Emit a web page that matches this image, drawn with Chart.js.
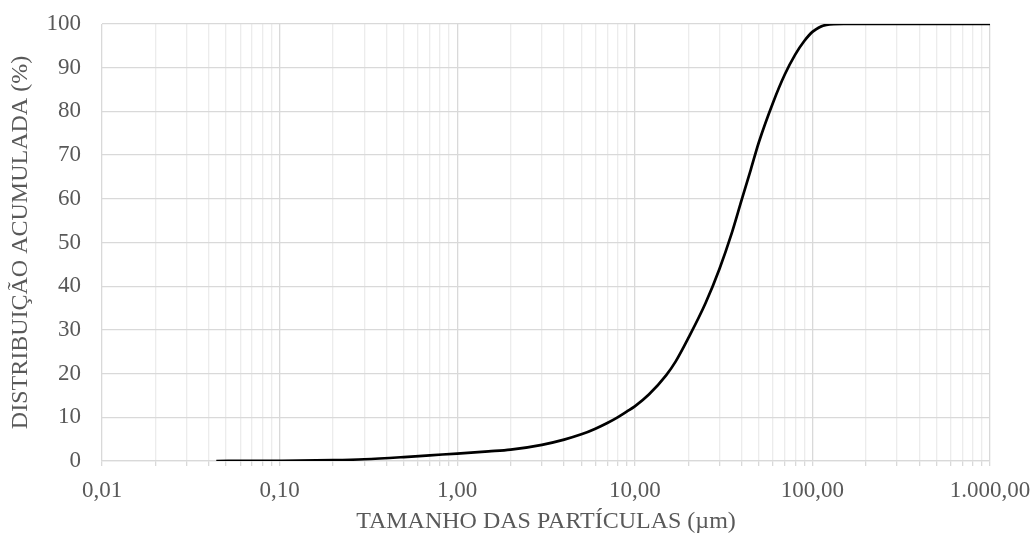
<!DOCTYPE html>
<html>
<head>
<meta charset="utf-8">
<script src="https://cdn.jsdelivr.net/npm/chart.js@4/dist/chart.umd.min.js"></script>
<style>
    html, body { margin: 0; padding: 0; background: #fff; }
    #wrap { width: 1035px; height: 538px; }
</style>
</head>
<body>
<div id="wrap"><canvas id="psd-chart" width="1035" height="538"></canvas></div>
<script>
// Tamanho das partículas (µm) e distribuição acumulada (%)
const tamanhos = [0.044, 0.07, 0.1, 0.2, 0.3, 0.5, 0.7, 1, 1.5, 2, 3, 4, 5, 6, 7, 8, 9, 10, 12, 15, 17, 20, 25, 30, 35, 40, 45, 50, 60, 70, 80, 90, 100, 120, 150, 1000];
const acumulada = [0, 0.02, 0.05, 0.2, 0.4, 0.9, 1.3, 1.7, 2.2, 2.6, 3.7, 4.9, 6.1, 7.4, 8.7, 10.0, 11.3, 12.5, 15.2, 19.6, 22.8, 28.1, 36.1, 44.0, 51.9, 59.8, 66.7, 73.0, 82.0, 88.5, 93.0, 96.1, 98.2, 99.8, 100, 100];

const decadas = [0.01, 0.1, 1, 10, 100, 1000];
const rotulosX = ['0,01', '0,10', '1,00', '10,00', '100,00', '1.000,00'];
const ticksY = [0, 10, 20, 30, 40, 50, 60, 70, 80, 90, 100];

const textColor = '#595959';
const fonte = 'Liberation Serif';

// posições das linhas de grade: 1..9 x 10^n
const ticksX = [];
decadas.forEach((d, i) => {
    if (i === decadas.length - 1) { ticksX.push(d); return; }
    for (let k = 1; k <= 9; k++) ticksX.push(+(k * d).toPrecision(3));
});
const isDecada = v => decadas.some(d => Math.abs(d - v) / d < 1e-6);

const ctx = document.getElementById('psd-chart').getContext('2d');
new Chart(ctx, {
    type: 'line',
    data: {
        datasets: [{
            data: tamanhos.map((t, i) => ({ x: t, y: acumulada[i] })),
            borderColor: '#000',
            borderWidth: 2.7,
            pointRadius: 0,
            fill: false,
            cubicInterpolationMode: 'monotone'
        }]
    },
    options: {
        responsive: false,
        animation: false,
        layout: { padding: { left: 0, top: 24, right: 45, bottom: 0 } },
        plugins: { legend: { display: false }, tooltip: { enabled: false } },
        scales: {
            x: {
                type: 'logarithmic',
                min: 0.01,
                max: 1000,
                afterBuildTicks: s => { s.ticks = ticksX.map(v => ({ value: v })); },
                afterFit: s => {
                    s.height = 77;
                    s.paddingLeft = 0;
                    s.paddingRight = 0;
                },
                ticks: {
                    autoSkip: false,
                    maxRotation: 0,
                    color: textColor,
                    font: { family: fonte, size: 23 },
                    padding: 11,
                    callback: v => {
                        const i = decadas.findIndex(d => Math.abs(d - v) / d < 1e-6);
                        return i >= 0 ? rotulosX[i] : '';
                    }
                },
                grid: {
                    color: c => isDecada(c.tick.value) ? '#d9d9d9' : '#ececec',
                    tickColor: '#d9d9d9',
                    tickLength: 5,
                    lineWidth: 1.3
                },
                border: { color: '#d9d9d9', width: 1.3 },
                title: {
                    display: true,
                    text: 'TAMANHO DAS PARTÍCULAS (µm)',
                    color: textColor,
                    font: { family: fonte, size: 24 },
                    padding: { top: 0, bottom: 2 }
                }
            },
            y: {
                min: 0,
                max: 100,
                afterBuildTicks: s => { s.ticks = ticksY.map(v => ({ value: v })); },
                afterFit: s => {
                    s.width = 102;
                    s.paddingTop = 0;
                    s.paddingBottom = 0;
                },
                ticks: {
                    color: textColor,
                    font: { family: fonte, size: 23 },
                    padding: 21
                },
                grid: { color: '#d9d9d9', lineWidth: 1.3, drawTicks: false },
                border: { display: false },
                title: {
                    display: true,
                    text: 'DISTRIBUIÇÃO ACUMULADA (%)',
                    color: textColor,
                    font: { family: fonte, size: 24 },
                    padding: { top: 6, bottom: 0 }
                }
            }
        }
    }
});
</script>
</body>
</html>
